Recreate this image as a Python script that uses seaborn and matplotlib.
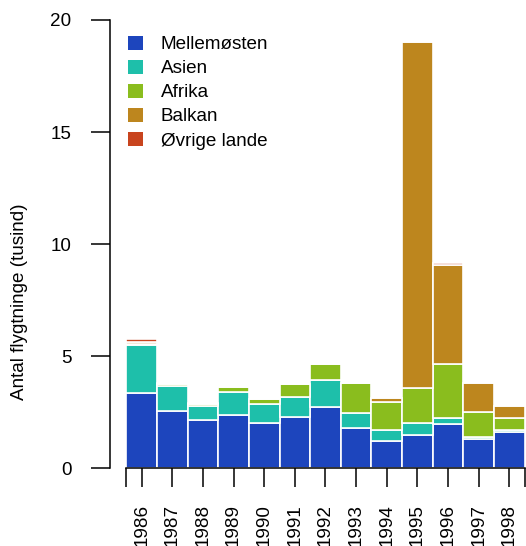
import numpy as np
import pandas as pd
import matplotlib
matplotlib.use("Agg")
import matplotlib.pyplot as plt
from matplotlib.patches import Patch
import seaborn as sns

# --- data (tusind flygtninge) ---
years = [1986, 1987, 1988, 1989, 1990, 1991, 1992, 1993, 1994, 1995, 1996, 1997, 1998]
mellemoesten = [3.38, 2.54, 2.14, 2.40, 2.02, 2.29, 2.74, 1.79, 1.22, 1.47, 1.98, 1.30, 1.60]
asien = [2.11, 1.15, 0.66, 0.99, 0.84, 0.89, 1.19, 0.68, 0.48, 0.57, 0.25, 0.10, 0.10]
afrika = [0.06, 0.08, 0.08, 0.24, 0.22, 0.60, 0.73, 1.34, 1.28, 1.55, 2.44, 1.09, 0.55]
balkan = [0.10, 0.00, 0.00, 0.00, 0.00, 0.00, 0.00, 0.00, 0.15, 15.41, 4.42, 1.32, 0.54]
oevrige = [0.10, 0.02, 0.02, 0.00, 0.00, 0.00, 0.00, 0.00, 0.00, 0.00, 0.09, 0.00, 0.00]

regions = ["Mellemøsten", "Asien", "Afrika", "Balkan", "Øvrige lande"]
colors = ["#1D45BD", "#1EBFAA", "#8ABD1E", "#BD861E", "#C8441E"]

df = pd.DataFrame({"year": years, "Mellemøsten": mellemoesten, "Asien": asien,
                   "Afrika": afrika, "Balkan": balkan, "Øvrige lande": oevrige})
long_df = df.melt(id_vars="year", var_name="region", value_name="antal")

# --- plot ---
sns.set_style("white")
plt.rcParams["font.family"] = ["Liberation Sans", "DejaVu Sans"]
plt.rcParams["text.color"] = "black"
plt.rcParams["xtick.color"] = "black"
plt.rcParams["ytick.color"] = "black"
fs = 13.6

W, H = 526, 546
fig = plt.figure(figsize=(W / 100, H / 100), dpi=100)
ax = fig.add_axes([110 / W, 1 - 468.3 / H, (524.6 - 110) / W, (468.3 - 20) / H])

# seaborn stacks the first hue level on top, so pass the order reversed
sns.histplot(data=long_df, x="year", weights="antal", hue="region",
             hue_order=regions[::-1], palette=colors[::-1], multiple="stack",
             discrete=True, shrink=1, alpha=1, edgecolor="white", linewidth=1.2,
             legend=False, ax=ax)

ax.set_xlim(years[0] - 1.035, years[-1] + 0.5)
ax.set_ylim(0, 20)

for s in ["top", "right"]:
    ax.spines[s].set_visible(False)
for s in ["left", "bottom"]:
    ax.spines[s].set_linewidth(1.1)
    ax.spines[s].set_color("black")
ax.spines["bottom"].set_bounds(years[0] - 0.5, years[-1] + 0.5)

ax.set_yticks([0, 5, 10, 15, 20])
ax.set_xticks([years[0] - 0.5] + years + [years[-1] + 0.5])
ax.set_xticklabels([""] + [str(y) for y in years] + [""], rotation=90)
ax.tick_params(axis="both", length=13.7, width=1.1, colors="black",
               labelsize=fs, direction="out", left=True, bottom=True)
ax.tick_params(axis="y", pad=14)
ax.tick_params(axis="x", pad=12)
ax.set_xlabel("")
ax.set_ylabel("")
fig.text(20 / W, 244 / H, "Antal flygtninge (tusind)", rotation=90,
         ha="center", va="center", fontsize=fs)

handles = [Patch(facecolor=c, edgecolor="none", label=r) for r, c in zip(regions, colors)]
ax.legend(handles=handles, loc="upper left", bbox_to_anchor=(0.024, 0.982),
          frameon=False, fontsize=fs, handlelength=0.8, handleheight=0.8,
          handletextpad=0.95, labelspacing=0.33, borderaxespad=0)

fig.savefig("out.png", dpi=100)
